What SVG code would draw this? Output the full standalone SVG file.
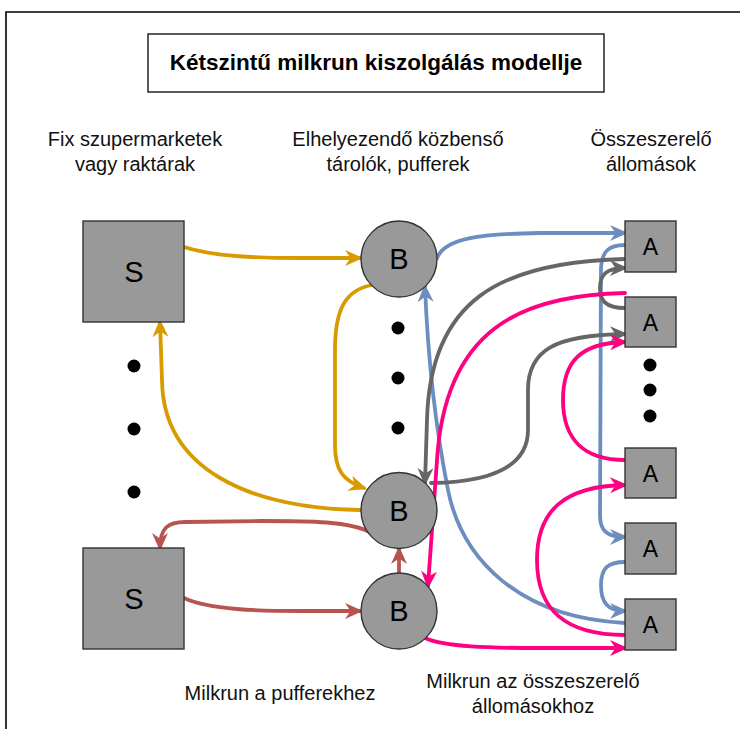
<svg xmlns="http://www.w3.org/2000/svg" width="740" height="729" viewBox="0 0 740 729">
  <style>
    .lbl { font-family: "Liberation Sans", Arial, sans-serif; font-size: 20px; fill: #111; text-anchor: middle; }
    .title { font-family: "Liberation Sans", Arial, sans-serif; font-size: 22.5px; font-weight: bold; fill: #000; text-anchor: middle; }
    .node { fill: #999999; stroke: #333333; stroke-width: 1.4; }
    .big { font-family: "Liberation Sans", Arial, sans-serif; font-size: 29px; fill: #000; text-anchor: middle; }
    .small { font-family: "Liberation Sans", Arial, sans-serif; font-size: 23px; fill: #000; text-anchor: middle; }
    .dot { fill: #000; }
    .c { fill: none; stroke-width: 3.8; stroke-linecap: round; stroke-linejoin: round; }
    .orange { stroke: #d79b00; }
    .red { stroke: #b85450; }
    .blue { stroke: #6c8ebf; }
    .grey { stroke: #666666; }
    .pink { stroke: #ff0080; }
  </style>
  <defs>
    <marker id="arO" viewBox="0 0 18 16" refX="15" refY="8" markerWidth="18" markerHeight="16" markerUnits="userSpaceOnUse" orient="auto">
      <path d="M18,8 L0,0 L5.5,8 L0,16 Z" fill="#d79b00"/>
    </marker>
    <marker id="arR" viewBox="0 0 18 16" refX="15" refY="8" markerWidth="18" markerHeight="16" markerUnits="userSpaceOnUse" orient="auto">
      <path d="M18,8 L0,0 L5.5,8 L0,16 Z" fill="#b85450"/>
    </marker>
    <marker id="arB" viewBox="0 0 18 16" refX="15" refY="8" markerWidth="18" markerHeight="16" markerUnits="userSpaceOnUse" orient="auto">
      <path d="M18,8 L0,0 L5.5,8 L0,16 Z" fill="#6c8ebf"/>
    </marker>
    <marker id="arG" viewBox="0 0 18 16" refX="15" refY="8" markerWidth="18" markerHeight="16" markerUnits="userSpaceOnUse" orient="auto">
      <path d="M18,8 L0,0 L5.5,8 L0,16 Z" fill="#666666"/>
    </marker>
    <marker id="arP" viewBox="0 0 18 16" refX="15" refY="8" markerWidth="18" markerHeight="16" markerUnits="userSpaceOnUse" orient="auto">
      <path d="M18,8 L0,0 L5.5,8 L0,16 Z" fill="#ff0080"/>
    </marker>
  </defs>

  <rect width="740" height="729" fill="#ffffff"/>

  <!-- outer frame (top and left edges) -->
  <path d="M6,729 L6,12 L740,12" fill="none" stroke="#000" stroke-width="1.6"/>

  <!-- title -->
  <g id="title">
    <rect x="148" y="34" width="456" height="58" fill="#fff" stroke="#333" stroke-width="1.6"/>
    <text class="title" x="376" y="70">Kétszintű milkrun kiszolgálás modellje</text>
  </g>

  <!-- column headings -->
  <g id="heading-supermarkets">
    <text class="lbl" x="135" y="146">Fix szupermarketek</text>
    <text class="lbl" x="135" y="171">vagy raktárak</text>
  </g>
  <g id="heading-buffers">
    <text class="lbl" x="398" y="146">Elhelyezendő közbenső</text>
    <text class="lbl" x="398" y="171">tárolók, pufferek</text>
  </g>
  <g id="heading-stations">
    <text class="lbl" x="651" y="146">Összeszerelő</text>
    <text class="lbl" x="651" y="171">állomások</text>
  </g>

  <!-- connectors -->
  <g id="connectors">
    <!-- supermarket / buffer milkrun (orange) -->
    <path class="c orange" d="M184,247 C 215,257 260,258 300,258 L 360,258" marker-end="url(#arO)"/>
    <path class="c orange" d="M372,285 C 345,290 335,310 335,350 L 335,445 C 335,470 343,481 364,488" marker-end="url(#arO)"/>
    <path class="c orange" d="M360,510 C 250,508 163,470 162,380 L 160,322" marker-end="url(#arO)"/>

    <!-- supermarket / buffer milkrun (red) -->
    <path class="c red" d="M372,533 C 350,521 310,521 260,521 L 185,522 C 168,522 160,528 160,548" marker-end="url(#arR)"/>
    <path class="c red" d="M184,598 C 210,610 260,611 300,611 L 360,611" marker-end="url(#arR)"/>
    <path class="c red" d="M399,573 L 399,549" marker-end="url(#arR)"/>

    <!-- station milkrun (blue) -->
    <path class="c blue" d="M437,258 C 445,238 480,234 540,233 L 625,233" marker-end="url(#arB)"/>
    <path class="c blue" d="M625,623 C 520,618 462,560 448,490 C 436,430 428,360 425,287" marker-end="url(#arB)"/>
    <path class="c blue" d="M625,245 C 608,245 602,252 601,268 L 600,515 C 600,530 606,537 625,537" marker-end="url(#arB)"/>
    <path class="c blue" d="M625,562 C 608,562 601,568 601,585 C 601,603 608,611 625,611" marker-end="url(#arB)"/>

    <!-- station milkrun (grey) -->
    <path class="c grey" d="M625,259 C 500,262 430,300 427,420 L 425,483" marker-end="url(#arG)"/>
    <path class="c grey" d="M625,308 C 605,308 600,300 600,288 C 600,275 606,268 625,268" marker-end="url(#arG)"/>
    <path class="c grey" d="M431,483 C 495,482 528,465 528,430 L 528,390 C 528,350 555,335 625,334" marker-end="url(#arG)"/>

    <!-- station milkrun (pink) -->
    <path class="c pink" d="M625,293 C 520,295 445,330 437,460 L 428,586" marker-end="url(#arP)"/>
    <path class="c pink" d="M625,460 C 585,460 563,440 563,400 C 563,362 580,343 625,342" marker-end="url(#arP)"/>
    <path class="c pink" d="M625,635 C 565,635 537,610 537,560 C 537,510 565,486 625,485" marker-end="url(#arP)"/>
    <path class="c pink" d="M425,638 C 445,647 490,648 540,648 L 625,648" marker-end="url(#arP)"/>
  </g>

  <!-- supermarkets -->
  <g id="S1">
    <rect class="node" x="83" y="221" width="101" height="101"/>
    <text class="big" x="134" y="282">S</text>
  </g>
  <g id="S2">
    <rect class="node" x="83" y="548" width="101" height="101"/>
    <text class="big" x="134" y="609">S</text>
  </g>
  <g id="S-dots">
    <circle class="dot" cx="134" cy="366" r="6.5"/>
    <circle class="dot" cx="134" cy="429" r="6.5"/>
    <circle class="dot" cx="134" cy="492" r="6.5"/>
  </g>

  <!-- buffers -->
  <g id="B1">
    <circle class="node" cx="399" cy="259" r="38"/>
    <text class="big" x="399" y="269">B</text>
  </g>
  <g id="B2">
    <circle class="node" cx="399" cy="510.5" r="38"/>
    <text class="big" x="399" y="521">B</text>
  </g>
  <g id="B3">
    <circle class="node" cx="399" cy="611" r="38"/>
    <text class="big" x="399" y="621">B</text>
  </g>
  <g id="B-dots">
    <circle class="dot" cx="398" cy="328" r="6.5"/>
    <circle class="dot" cx="398" cy="378" r="6.5"/>
    <circle class="dot" cx="398" cy="428" r="6.5"/>
  </g>

  <!-- assembly stations -->
  <g id="A1">
    <rect class="node" x="625" y="221" width="51" height="51"/>
    <text class="small" x="650.5" y="255">A</text>
  </g>
  <g id="A2">
    <rect class="node" x="625" y="297" width="51" height="50"/>
    <text class="small" x="650.5" y="331">A</text>
  </g>
  <g id="A3">
    <rect class="node" x="625" y="448" width="51" height="50"/>
    <text class="small" x="650.5" y="482">A</text>
  </g>
  <g id="A4">
    <rect class="node" x="625" y="523" width="51" height="51"/>
    <text class="small" x="650.5" y="557">A</text>
  </g>
  <g id="A5">
    <rect class="node" x="625" y="599" width="51" height="51"/>
    <text class="small" x="650.5" y="633">A</text>
  </g>
  <g id="A-dots">
    <circle class="dot" cx="650" cy="365" r="6.5"/>
    <circle class="dot" cx="650" cy="390" r="6.5"/>
    <circle class="dot" cx="650" cy="416" r="6.5"/>
  </g>

  <!-- captions -->
  <g id="caption-buffers">
    <text class="lbl" x="280" y="700">Milkrun a pufferekhez</text>
  </g>
  <g id="caption-stations">
    <text class="lbl" x="533" y="688">Milkrun az összeszerelő</text>
    <text class="lbl" x="533" y="713">állomásokhoz</text>
  </g>
</svg>
